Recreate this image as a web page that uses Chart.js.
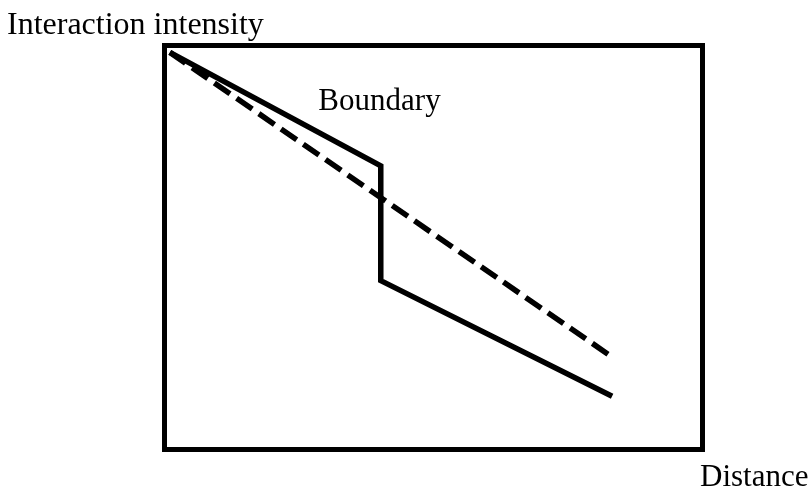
<!DOCTYPE html>
<html>
<head>
<meta charset="utf-8">
<script src="https://cdn.jsdelivr.net/npm/chart.js@4"></script>
<style>
  html, body { margin: 0; padding: 0; background: #fff; }
  #wrap { width: 812px; height: 495px; }
</style>
</head>
<body>
<div id="wrap"><canvas id="chart" width="812" height="495"></canvas></div>
<script>
// distance along the x axis (0-100), intensity on y (0-100)
const solidDistance = [1, 40.2, 40.2, 83.2]
const solidIntensity = [98.3, 70.2, 41.8, 13.2]
const dashedDistance = [1, 83.2]
const dashedIntensity = [98.3, 22.9]

const yTitle = "Interaction intensity"
const xTitle = "Distance"
const boundaryLabel = "Boundary"

const toPoints = (xs, ys) => xs.map((x, i) => ({ x: x, y: ys[i] }))

const FONT = "'Liberation Serif', 'Times New Roman', serif"

const frame = {
  id: "frame",
  afterDraw(chart) {
    const { ctx, chartArea: a, scales } = chart
    ctx.save()
    ctx.strokeStyle = "#000"
    ctx.lineWidth = 5
    ctx.lineJoin = "miter"
    ctx.strokeRect(a.left, a.top, a.right - a.left, a.bottom - a.top)

    ctx.fillStyle = "#000"
    ctx.textAlign = "left"
    ctx.textBaseline = "alphabetic"
    ctx.font = "32px " + FONT
    ctx.fillText(yTitle, 7, 34)
    ctx.font = "31px " + FONT
    ctx.fillText(xTitle, 700, 486)
    ctx.font = "31px " + FONT
    ctx.fillText(boundaryLabel, scales.x.getPixelForValue(28.6), scales.y.getPixelForValue(84))
    ctx.restore()
  }
}

new Chart(document.getElementById("chart"), {
  type: "line",
  data: {
    datasets: [
      {
        data: toPoints(solidDistance, solidIntensity),
        borderColor: "#000",
        borderWidth: 5.5,
        borderCapStyle: "butt",
        borderJoinStyle: "miter",
        pointRadius: 0,
        tension: 0,
        fill: false
      },
      {
        data: toPoints(dashedDistance, dashedIntensity),
        borderColor: "#000",
        borderWidth: 5.5,
        borderDash: [19, 8],
        borderCapStyle: "butt",
        pointRadius: 0,
        tension: 0,
        fill: false
      }
    ]
  },
  options: {
    responsive: false,
    animation: false,
    layout: { padding: { left: 164.5, right: 109.5, top: 45.5, bottom: 45.5 } },
    plugins: { legend: { display: false }, tooltip: { enabled: false } },
    scales: {
      x: { type: "linear", min: 0, max: 100, display: false },
      y: { type: "linear", min: 0, max: 100, display: false }
    }
  },
  plugins: [frame]
})
</script>
</body>
</html>
